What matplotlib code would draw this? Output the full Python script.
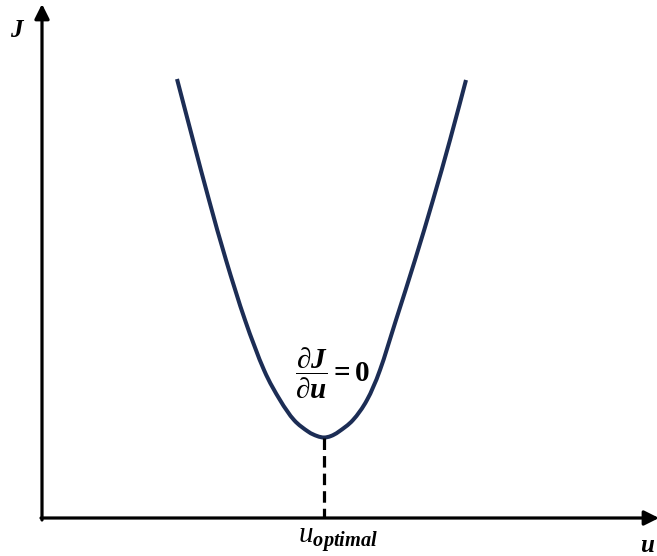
import matplotlib
matplotlib.use("Agg")
import matplotlib.pyplot as plt
from matplotlib.path import Path
from matplotlib.patches import PathPatch

plt.rcParams["mathtext.fontset"] = "custom"
plt.rcParams["mathtext.it"] = "Liberation Serif:italic:bold"
plt.rcParams["mathtext.rm"] = "Liberation Serif:bold"
plt.rcParams["mathtext.bf"] = "Liberation Serif:bold"
plt.rcParams["mathtext.sf"] = "Liberation Serif:italic"

# Cost curve J(u), sampled along the bowl
u_vals = [1.35, 1.51, 1.67, 1.84, 2.03, 2.22, 2.38, 2.52, 2.66, 2.75, 2.82,
          2.89, 2.97, 3.11, 3.25, 3.38, 3.54, 3.73, 3.91, 4.08, 4.24]
J_vals = [4.39, 3.78, 3.18, 2.58, 1.98, 1.48, 1.18, 0.98, 0.865, 0.82, 0.805,
          0.82, 0.865, 0.98, 1.18, 1.48, 1.98, 2.58, 3.18, 3.78, 4.38]
u_opt = 2.82
J_min = 0.805

curve_color = "#1c2d55"


def smooth_path(xs, ys):
    """Catmull-Rom curve through the samples, as cubic Bezier segments."""
    pts = list(zip(xs, ys))
    ext = [pts[0]] + pts + [pts[-1]]
    verts = [pts[0]]
    codes = [Path.MOVETO]
    for i in range(1, len(ext) - 2):
        p0, p1, p2, p3 = ext[i - 1], ext[i], ext[i + 1], ext[i + 2]
        c1 = (p1[0] + (p2[0] - p0[0]) / 6, p1[1] + (p2[1] - p0[1]) / 6)
        c2 = (p2[0] - (p3[0] - p1[0]) / 6, p2[1] - (p3[1] - p1[1]) / 6)
        verts += [c1, c2, p2]
        codes += [Path.CURVE4] * 3
    return Path(verts, codes)


fig = plt.figure(figsize=(6.57, 5.56), dpi=100)
ax = fig.add_axes([0, 0, 1, 1])
ax.set_xlim(-0.42, 6.15)
ax.set_ylim(-0.38, 5.18)
ax.axis("off")

# Axes with arrow heads
arrow = dict(arrowstyle="-|>", lw=2.3, color="black", mutation_scale=22,
             shrinkA=0, shrinkB=0)
ax.annotate("", xy=(0, 5.14), xytext=(0, -0.02), arrowprops=arrow,
            annotation_clip=False)
ax.annotate("", xy=(6.17, 0), xytext=(-0.01, 0), arrowprops=arrow,
            annotation_clip=False)

# Cost curve
ax.add_patch(PathPatch(smooth_path(u_vals, J_vals), facecolor="none",
                       edgecolor=curve_color, lw=2.9, capstyle="butt",
                       joinstyle="round"))

# Drop line from the minimum to the u axis
ax.plot([u_opt, u_opt], [J_min, 0], color="black", lw=2.3,
        linestyle=(0, (3.6, 1.9)))

# Labels
ax.text(-0.24, 4.88, r"$J$", fontsize=18, ha="center", va="center")
ax.text(6.06, -0.27, r"$u$", fontsize=18, ha="center", va="center")
ax.text(u_opt + 0.14, -0.22, r"$\mathsf{u}_{optimal}$", fontsize=21,
        ha="center", va="center")
ax.text(u_opt + 0.09, 1.45, r"$\dfrac{\partial J}{\partial u} = 0$",
        fontsize=21, ha="center", va="center")

fig.savefig("out.png", dpi=100)
